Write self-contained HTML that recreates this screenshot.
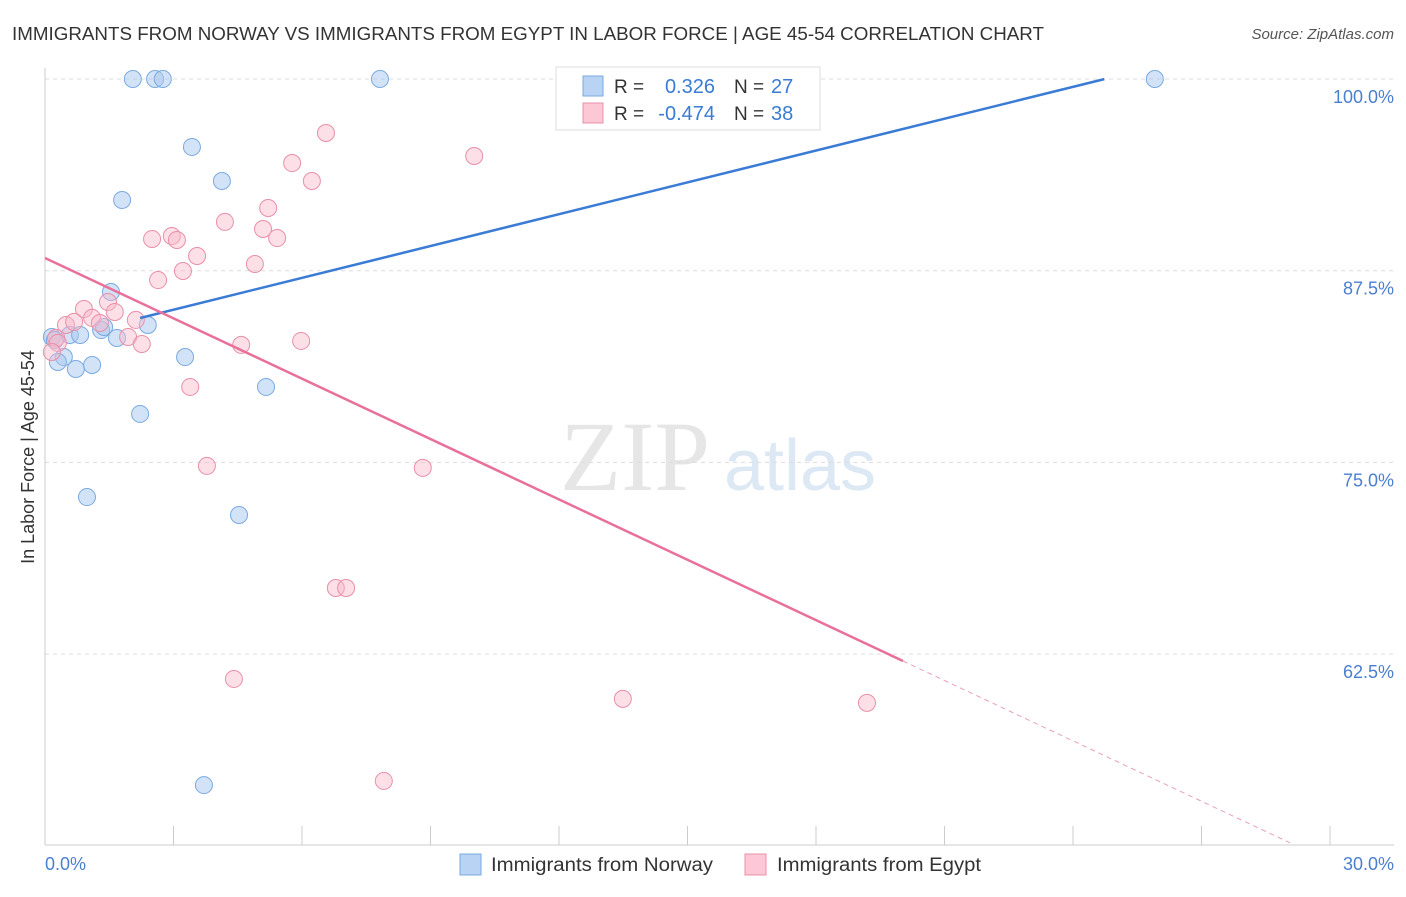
<!DOCTYPE html>
<html><head><meta charset="utf-8"><style>
body{margin:0;background:#fff;font-family:"Liberation Sans",sans-serif}
#c{position:relative;width:1406px;height:892px}
</style></head><body>
<div id="c">
<svg id="s" width="1406" height="892" xmlns="http://www.w3.org/2000/svg">
<text x="12" y="40" font-size="18" fill="#333" textLength="1032" lengthAdjust="spacingAndGlyphs">IMMIGRANTS FROM NORWAY VS IMMIGRANTS FROM EGYPT IN LABOR FORCE | AGE 45-54 CORRELATION CHART</text>
<text x="1394" y="39" font-size="15" fill="#555" text-anchor="end" font-style="italic">Source: ZipAtlas.com</text>
<text x="635" y="490" font-size="100" fill="#e6e6e6" font-family="Liberation Serif" text-anchor="middle">ZIP</text>
<text x="800" y="490" font-size="72" fill="#dde8f5" text-anchor="middle">atlas</text>
<text transform="translate(34,457) rotate(-90)" font-size="18" fill="#333" text-anchor="middle">In Labor Force | Age 45-54</text>
<text x="45" y="870" font-size="18" fill="#4a7fd0">0.0%</text>
<text x="1394" y="870" font-size="18" fill="#4a7fd0" text-anchor="end">30.0%</text>
<g id="grid"></g><g id="marks"></g>
<g>
<rect x="556" y="67" width="264" height="63" fill="#fff" stroke="#ddd"/>
<rect x="583" y="76" width="20" height="20" fill="#b9d3f5" stroke="#7aaae0"/>
<rect x="583" y="103" width="20" height="20" fill="#fcc8d6" stroke="#e890a8"/>
<text x="614" y="93" font-size="19" fill="#333">R =</text>
<text x="715" y="93" font-size="20" fill="#3a7bd5" text-anchor="end">0.326</text>
<text x="734" y="93" font-size="19" fill="#333">N =</text>
<text x="771" y="93" font-size="20" fill="#3a7bd5">27</text>
<text x="614" y="120" font-size="19" fill="#333">R =</text>
<text x="715" y="120" font-size="20" fill="#3a7bd5" text-anchor="end">-0.474</text>
<text x="734" y="120" font-size="19" fill="#333">N =</text>
<text x="771" y="120" font-size="20" fill="#3a7bd5">38</text>
</g>
<g>
<rect x="460" y="854" width="21" height="21" fill="#b9d3f5" stroke="#7aaae0"/>
<text x="491" y="871" font-size="19" fill="#333" textLength="222" lengthAdjust="spacingAndGlyphs">Immigrants from Norway</text>
<rect x="745" y="854" width="21" height="21" fill="#fcc8d6" stroke="#e890a8"/>
<text x="777" y="871" font-size="19" fill="#333" textLength="204" lengthAdjust="spacingAndGlyphs">Immigrants from Egypt</text>
</g>
</svg></div>
<script>
const yTicks=[100,87.5,75,62.5];
const yTickLabels=["100.0%","87.5%","75.0%","62.5%"];
const xTicks=[0,3,6,9,12,15,18,21,24,27,30];
const norwayX=[2.05,2.57,2.75,7.82,25.91,3.43,4.13,1.80,1.54,2.40,0.16,0.23,0.58,0.82,1.31,1.38,1.68,0.44,0.30,0.72,1.10,3.27,5.16,2.22,0.98,4.53,3.71];
const norwayY=[100,100,100,100,100,95.57,93.35,92.11,86.11,83.96,83.18,82.98,83.31,83.31,83.63,83.83,83.11,81.87,81.55,81.09,81.35,81.87,79.92,78.16,72.74,71.57,53.96];
const egyptX=[6.56,10.02,5.77,6.23,5.21,4.20,5.09,2.96,2.50,3.08,5.42,3.55,4.90,3.22,2.64,0.91,1.47,1.63,2.12,1.10,1.28,0.49,0.68,1.94,0.26,0.30,2.26,4.58,5.98,0.16,3.39,3.78,8.82,6.79,7.03,4.41,13.49,19.19,7.91];
const egyptY=[96.48,94.98,94.52,93.35,91.59,90.68,90.22,89.76,89.57,89.50,89.63,88.46,87.94,87.48,86.89,85.00,85.46,84.81,84.29,84.42,84.09,83.96,84.16,83.18,83.11,82.79,82.72,82.66,82.92,82.20,79.92,74.77,74.64,66.81,66.81,60.88,59.58,59.32,54.23];
const norwayLine={x0:2.22,x1:24.73,b:82.88,m:0.692};
const egyptLine={x0:0,x1:20.03,x2:30,b:88.33,m:-1.312};
const X=v=>45+v*(1285/30), Y=v=>79+(100-v)*(191.7/12.5);
const NS="http://www.w3.org/2000/svg";
function mk(t,a,p){const e=document.createElementNS(NS,t);for(const k in a)e.setAttribute(k,a[k]);p.appendChild(e);return e;}
const g=document.getElementById('grid'),m=document.getElementById('marks');
yTicks.forEach((t,i)=>{const l=mk('line',{x1:45,x2:1394,y1:Y(t),y2:Y(t),stroke:'#ddd','stroke-dasharray':'4,4'},g);

const tx=mk('text',{x:1394,y:Y(t)+24,'font-size':18,fill:'#4a7fd0','text-anchor':'end'},g);tx.textContent=yTickLabels[i];
});
const ax=mk('line',{x1:45,x2:1394,y1:845,y2:845,stroke:'#ccc'},g);
const ay=mk('line',{x1:45,x2:45,y1:68,y2:845,stroke:'#ccc'},g);
xTicks.forEach(t=>{const l=mk('line',{x1:X(t),x2:X(t),y1:826,y2:845,stroke:'#ccc'},g);});
norwayX.forEach((v,i)=>{const c=mk('circle',{cx:X(v),cy:Y(norwayY[i]),r:8.5,fill:'rgba(168,200,240,0.5)',stroke:'#7aaae0','stroke-width':1},m);
});
egyptX.forEach((v,i)=>{const c=mk('circle',{cx:X(v),cy:Y(egyptY[i]),r:8.5,fill:'rgba(248,184,202,0.45)',stroke:'#e890a8','stroke-width':1},m);
});
let L=norwayLine;let l1=mk('line',{x1:X(L.x0),y1:Y(L.b+L.m*L.x0),x2:X(L.x1),y2:Y(L.b+L.m*L.x1),stroke:'#3a7bd5','stroke-width':2.5},m);

L=egyptLine;let l2=mk('line',{x1:X(L.x0),y1:Y(L.b),x2:X(L.x1),y2:Y(L.b+L.m*L.x1),stroke:'#e8709a','stroke-width':2.5},m);

let l3=mk('line',{x1:X(L.x1),y1:Y(L.b+L.m*L.x1),x2:X(L.x2)-40,y2:Y(L.b+L.m*(L.x2-40*30/1285)),stroke:'#e8a0b8','stroke-width':1,'stroke-dasharray':'5,4'},m);

</script></body></html>
